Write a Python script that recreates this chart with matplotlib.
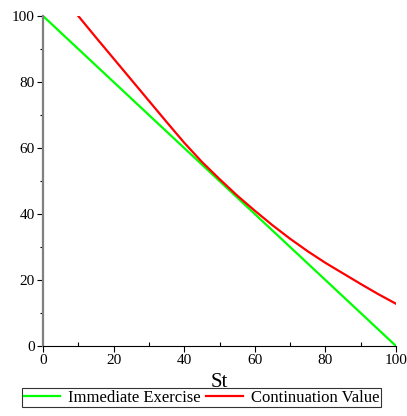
import numpy as np
import matplotlib
matplotlib.use("Agg")
import matplotlib.pyplot as plt
from matplotlib.ticker import MultipleLocator

plt.rcParams["font.family"] = ["Liberation Serif", "DejaVu Serif"]

# stock price grid and the two values being compared
st_exercise = [0, 100]
immediate_exercise = [100, 0]

st_cont = [10, 15, 20, 25, 30, 35, 40, 45, 50, 55,
           60, 65, 70, 75, 80, 85, 90, 95, 100]
continuation_value = [100, 93.5, 87.1, 80.7, 74.3, 67.9, 61.6, 55.8, 50.6, 45.6,
                      41.0, 36.6, 32.5, 28.7, 25.2, 22.0, 18.8, 15.7, 12.8]

W, H = 407, 416
fig = plt.figure(figsize=(W / 100, H / 100), dpi=100)
ax = fig.add_axes([43 / W, 1 - 346 / H, (396 - 43) / W, (346 - 16) / H])

ax.plot(st_exercise, immediate_exercise, color="#00ff00", lw=1.6,
        label="Immediate Exercise")
ax.plot(st_cont, continuation_value, color="#ff0000", lw=1.6,
        label="Continuation Value")

ax.set_xlim(0, 100)
ax.set_ylim(0, 100)

ax.spines["top"].set_visible(False)
ax.spines["right"].set_visible(False)
ax.spines["left"].set_color("#808080")
ax.spines["left"].set_linewidth(1.6)
ax.spines["bottom"].set_color("black")
ax.spines["bottom"].set_linewidth(0.8)

ax.xaxis.set_major_locator(MultipleLocator(20))
ax.xaxis.set_minor_locator(MultipleLocator(10))
ax.yaxis.set_major_locator(MultipleLocator(20))
ax.yaxis.set_minor_locator(MultipleLocator(10))
ax.tick_params(axis="both", which="major", length=4, width=0.8,
               direction="out", labelsize=11, pad=2)
ax.tick_params(axis="x", which="minor", length=3, width=0.8, direction="in")
ax.tick_params(axis="y", which="minor", length=2.5, width=0.8, direction="out")

ax.set_xlabel("St", fontsize=15, labelpad=4)

leg = fig.legend(loc="upper center", bbox_to_anchor=(0.495, 1 - 388 / H), ncol=2,
                 frameon=True, fancybox=False, fontsize=12,
                 handlelength=2.2, columnspacing=0.35, handletextpad=0.45,
                 borderpad=0.1, borderaxespad=0)
leg.get_frame().set_edgecolor("black")
leg.get_frame().set_linewidth(0.8)

fig.savefig("out.png", dpi=100)
